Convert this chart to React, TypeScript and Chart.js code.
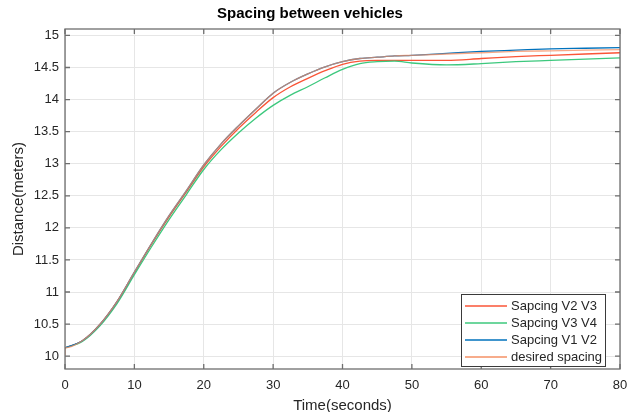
import React, { useEffect, useRef } from 'react';
import { Chart, registerables } from 'chart.js';

Chart.register(...registerables);

const TITLE = 'Spacing between vehicles';
const X_TITLE = 'Time(seconds)';
const Y_TITLE = 'Distance(meters)';

const times = [0, 2.5, 5, 7.5, 10, 12.5, 15, 17.5, 20, 22.5, 25, 27.5, 30, 32.5, 35, 37.5, 40, 42.5, 45, 47.5, 50, 55, 60, 65, 70, 75, 80];

const spacingV2V3 = [10.13, 10.24, 10.49, 10.85, 11.3, 11.75, 12.17, 12.56, 12.95, 13.27, 13.55, 13.8, 14.03, 14.2, 14.33, 14.45, 14.55, 14.6, 14.61, 14.61, 14.61, 14.61, 14.64, 14.67, 14.69, 14.71, 14.73];
const spacingV3V4 = [10.13, 10.23, 10.47, 10.82, 11.27, 11.71, 12.13, 12.52, 12.91, 13.22, 13.48, 13.71, 13.91, 14.07, 14.2, 14.34, 14.47, 14.56, 14.59, 14.6, 14.57, 14.54, 14.56, 14.59, 14.61, 14.63, 14.65];
const spacingV1V2 = [10.13, 10.24, 10.49, 10.85, 11.31, 11.76, 12.19, 12.58, 12.98, 13.31, 13.59, 13.85, 14.1, 14.27, 14.4, 14.51, 14.59, 14.64, 14.66, 14.68, 14.69, 14.72, 14.75, 14.77, 14.79, 14.8, 14.81];
const desiredSpacing = [10.13, 10.24, 10.49, 10.85, 11.31, 11.76, 12.19, 12.58, 12.98, 13.31, 13.59, 13.85, 14.1, 14.27, 14.4, 14.51, 14.59, 14.64, 14.66, 14.68, 14.69, 14.71, 14.73, 14.75, 14.76, 14.77, 14.78];
const desiredStart = 10.02;

const legendLabels = ['Sapcing V2 V3', 'Sapcing V3 V4', 'Sapcing V1 V2', 'desired spacing'];
const seriesColors = ['rgb(250,85,55)', 'rgb(60,200,125)', 'rgb(0,114,189)', 'rgba(245,140,95,0.75)'];
const legendColors = ['rgb(250,85,55)', 'rgb(60,200,125)', 'rgb(0,114,189)', 'rgb(245,145,100)'];

const xTicks = [0, 10, 20, 30, 40, 50, 60, 70, 80];
const yTicks = [10, 10.5, 11, 11.5, 12, 12.5, 13, 13.5, 14, 14.5, 15];

const FONT = '"Liberation Sans", Arial, Helvetica, sans-serif';
const TEXT = '#262626';

export default function App() {
  const ref = useRef<HTMLCanvasElement>(null);

  useEffect(() => {
    if (!ref.current) return;
    const toPts = (ys: number[]) => times.map((t, i) => ({ x: t, y: ys[i] }));

    const framePlugin = {
      id: 'frame',
      afterDatasetsDraw(chart: any) {
        const { ctx, chartArea, scales } = chart;
        const { left, right, top, bottom } = chartArea;
        ctx.save();
        ctx.strokeStyle = '#6e6e6e';
        ctx.lineWidth = 1.3;
        ctx.strokeRect(left, top, right - left, bottom - top);
        ctx.beginPath();
        xTicks.forEach((v) => {
          const px = scales.x.getPixelForValue(v);
          ctx.moveTo(px, bottom);
          ctx.lineTo(px, bottom - 5);
          ctx.moveTo(px, top);
          ctx.lineTo(px, top + 5);
        });
        yTicks.forEach((v) => {
          const py = scales.y.getPixelForValue(v);
          ctx.moveTo(left, py);
          ctx.lineTo(left + 5, py);
          ctx.moveTo(right, py);
          ctx.lineTo(right - 5, py);
        });
        ctx.stroke();
        ctx.restore();
      },
    };

    const legendPlugin = {
      id: 'boxLegend',
      afterDraw(chart: any) {
        const { ctx, chartArea } = chart;
        const w = 144;
        const h = 72;
        const bx = chartArea.right - 15 - w;
        const by = chartArea.bottom - 3 - h;
        ctx.save();
        ctx.fillStyle = '#ffffff';
        ctx.fillRect(bx, by, w, h);
        ctx.strokeStyle = '#3a3a3a';
        ctx.lineWidth = 1;
        ctx.strokeRect(bx + 0.5, by + 0.5, w, h);
        ctx.font = `13px ${FONT}`;
        ctx.textBaseline = 'middle';
        ctx.textAlign = 'left';
        legendLabels.forEach((label, i) => {
          const cy = by + 12 + i * 17;
          ctx.strokeStyle = legendColors[i];
          ctx.lineWidth = 1.5;
          ctx.beginPath();
          ctx.moveTo(bx + 4, cy);
          ctx.lineTo(bx + 46, cy);
          ctx.stroke();
          ctx.fillStyle = TEXT;
          ctx.fillText(label, bx + 50, cy);
        });
        ctx.restore();
      },
    };

    const chart = new Chart(ref.current, {
      type: 'line',
      data: {
        datasets: [
          { label: legendLabels[0], data: toPts(spacingV2V3), borderColor: seriesColors[0], order: 3 },
          { label: legendLabels[1], data: toPts(spacingV3V4), borderColor: seriesColors[1], order: 2 },
          { label: legendLabels[2], data: toPts(spacingV1V2), borderColor: seriesColors[2], order: 1 },
          {
            label: legendLabels[3],
            data: [{ x: 0, y: desiredStart }, ...toPts(desiredSpacing)],
            borderColor: seriesColors[3],
            order: 0,
          },
        ],
      },
      options: {
        animation: false,
        responsive: true,
        maintainAspectRatio: false,
        layout: { padding: { left: 0, right: 7, top: 0, bottom: 0 } },
        elements: {
          point: { radius: 0, hoverRadius: 0 },
          line: { borderWidth: 1.3, cubicInterpolationMode: 'monotone', fill: false },
        },
        plugins: {
          legend: { display: false },
          tooltip: { enabled: false },
          title: {
            display: true,
            text: TITLE,
            color: '#000000',
            font: { family: FONT, size: 15, weight: 'bold', lineHeight: 1.2 },
            padding: { top: 5, bottom: 6 },
          },
        },
        scales: {
          x: {
            type: 'linear',
            min: 0,
            max: 80,
            afterBuildTicks: (s: any) => {
              s.ticks = xTicks.map((v) => ({ value: v }));
            },
            afterFit: (s: any) => {
              s.height = 43;
              s.paddingLeft = 0;
              s.paddingRight = 0;
            },
            grid: { color: '#e6e6e6', drawTicks: false },
            border: { display: false },
            ticks: {
              color: TEXT,
              font: { family: FONT, size: 13 },
              padding: 9,
              maxRotation: 0,
              autoSkip: false,
              callback: (v: any) => String(v),
            },
            title: {
              display: true,
              text: X_TITLE,
              color: TEXT,
              font: { family: FONT, size: 15, lineHeight: 1.2 },
              padding: { top: 0, bottom: -3 },
            },
          },
          y: {
            type: 'linear',
            min: 9.8,
            max: 15.1,
            afterBuildTicks: (s: any) => {
              s.ticks = yTicks.map((v) => ({ value: v }));
            },
            afterFit: (s: any) => {
              s.width = 65;
              s.paddingTop = 0;
              s.paddingBottom = 0;
            },
            grid: { color: '#e6e6e6', drawTicks: false },
            border: { display: false },
            ticks: {
              color: TEXT,
              font: { family: FONT, size: 13 },
              padding: 6,
              autoSkip: false,
              callback: (v: any) => String(v),
            },
            title: {
              display: true,
              text: Y_TITLE,
              color: TEXT,
              font: { family: FONT, size: 15, lineHeight: 1.2 },
              padding: { top: 9.5, bottom: 0 },
            },
          },
        },
      },
      plugins: [framePlugin, legendPlugin],
    } as any);

    return () => chart.destroy();
  }, []);

  return (
    <div style={{ position: 'fixed', left: 0, top: 0, width: 627, height: 412, background: '#ffffff' }}>
      <canvas ref={ref} />
    </div>
  );
}
